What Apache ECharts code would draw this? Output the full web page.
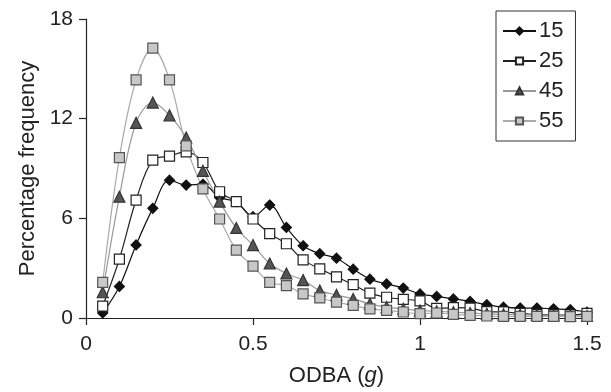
<!DOCTYPE html>
<html><head><meta charset="utf-8">
<script src="https://cdn.jsdelivr.net/npm/echarts@6/dist/echarts.min.js"></script>
<style>html,body{margin:0;padding:0;background:#fff}#c{width:611px;height:392px}</style>
</head><body><div id="c"></div>
<script>
var xs = [0.05,0.1,0.15,0.2,0.25,0.3,0.35,0.4,0.45,0.5,0.55,0.6,0.65,0.7,0.75,0.8,0.85,0.9,0.95,1.0,1.05,1.1,1.15,1.2,1.25,1.3,1.35,1.4,1.45,1.5];
var s15 = [0.3,1.9,4.4,6.6,8.3,8.0,8.05,7.25,7.0,6.1,6.8,5.45,4.35,3.87,3.6,2.94,2.34,2.05,1.8,1.45,1.3,1.15,1.0,0.8,0.65,0.6,0.6,0.55,0.5,0.35];
var s25 = [0.72,3.55,7.1,9.5,9.75,10.0,9.36,7.6,7.0,5.96,5.08,4.47,3.5,2.96,2.48,2.01,1.5,1.25,1.12,1.03,0.58,0.62,0.6,0.38,0.36,0.28,0.2,0.18,0.18,0.28];
var s45 = [1.55,7.3,11.75,12.97,12.2,10.86,8.86,7.01,5.42,4.39,3.28,2.68,2.28,1.65,1.39,1.15,0.85,0.66,0.55,0.45,0.4,0.35,0.3,0.25,0.22,0.2,0.18,0.15,0.15,0.12];
var s55 = [2.15,9.65,14.34,16.25,14.34,10.36,7.77,5.96,4.09,3.12,2.15,1.95,1.45,1.21,0.95,0.76,0.55,0.46,0.36,0.26,0.3,0.22,0.16,0.12,0.1,0.1,0.1,0.1,0.08,0.1];
var names = ['15','25','45','55'];
var xTicks = [0,0.5,1,1.5];
var yTicks = [0,6,12,18];

function pairs(v){ return xs.map(function(x,i){ return [x, v[i]]; }); }
var FONT = 'Liberation Sans, Arial, sans-serif';
var chart = echarts.init(document.getElementById('c'), null, {renderer:'canvas'});
function mk(name, data, lineColor, symbol, size, fill, border){
  return {name:name, type:'line', data:pairs(data), smooth:0.35, symbol:symbol, symbolSize:size,
    showAllSymbol:true, lineStyle:{color:lineColor, width:1.2},
    itemStyle:{color:fill, borderColor:border, borderWidth:1.2}, animation:false, z:2};
}
chart.setOption({
  backgroundColor:'#fff',
  animation:false,
  grid:{left:86, right:24, top:19, bottom:71, containLabel:false},
  xAxis:{type:'value', min:0, max:1.5, interval:0.5,
    axisLine:{show:true, onZero:false, lineStyle:{color:'#222', width:1.2}},
    axisTick:{show:true, inside:false, length:7, lineStyle:{color:'#222', width:1.2}},
    splitLine:{show:false},
    axisLabel:{color:'#222', fontSize:21, fontFamily:FONT, margin:16,
      formatter:function(v){ return xTicks.indexOf(v)>=0 ? String(v) : ''; }},
    name:'{a|ODBA (}{b|g}{a|)}', nameLocation:'middle', nameGap:47,
    nameTextStyle:{rich:{a:{fontSize:22, color:'#222', fontFamily:FONT}, b:{fontSize:22, color:'#222', fontFamily:FONT, fontStyle:'italic'}}}
  },
  yAxis:{type:'value', min:0, max:18, interval:6,
    axisLine:{show:true, lineStyle:{color:'#222', width:1.2}},
    axisTick:{show:true, inside:false, length:7, lineStyle:{color:'#222', width:1.2}},
    splitLine:{show:false},
    axisLabel:{color:'#222', fontSize:21, fontFamily:FONT, margin:13,
      formatter:function(v){ return yTicks.indexOf(v)>=0 ? String(v) : ''; }},
    name:'Percentage frequency', nameLocation:'middle', nameGap:45,
    nameTextStyle:{fontSize:22, color:'#222', fontFamily:FONT}
  },
  legend:{orient:'vertical', left:496, top:11, width:84,
    borderColor:'#333', borderWidth:1, padding:[9,12,9,6], itemGap:8,
    itemWidth:33, itemHeight:9, textStyle:{fontSize:22, color:'#222', fontFamily:FONT, padding:[0,0,0,-2]},
    data:names},
  series:[
    mk(names[0], s15, '#111', 'diamond', 10, '#111', '#111'),
    mk(names[1], s25, '#222', 'rect', 10, '#fff', '#222'),
    mk(names[2], s45, '#999', 'triangle', 11, '#555', '#333'),
    mk(names[3], s55, '#aaa', 'rect', 10, '#c8c8c8', '#555')
  ]
});
</script></body></html>
